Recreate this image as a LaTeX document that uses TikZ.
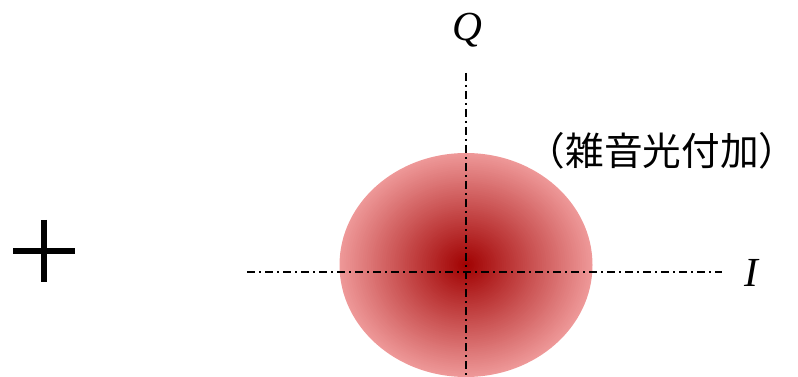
\documentclass[tikz,border=0pt]{standalone}
\usepackage{fontspec}
\setmainfont{Liberation Serif}
\newfontfamily\jpfont{Noto Sans CJK JP}
\usepackage{tikz}
\usetikzlibrary{shapes.geometric, positioning, calc}
\definecolor{cCore}{RGB}{160,0,0}
\definecolor{cRim}{RGB}{238,152,152}
\tikzset{
	cloud/.style    ={ellipse, minimum width=190pt, minimum height=168pt, inner sep=0pt, draw=none},
	axisline/.style ={line width=1.1pt, dash pattern=on 6pt off 3pt on 1.5pt off 3pt},
	axislabel/.style={font=\fontsize{31}{31}\selectfont\itshape, inner sep=0pt},
	plusbar/.style  ={line width=4.5pt},
}
\begin{document}
\begin{tikzpicture}[x=0.75pt, y=-0.75pt]
	\useasboundingbox (0,0) rectangle (798,377);
	% noise-added symbol
	\node[cloud] (blob) at (466,265) {};
	\foreach \k in {60,59,...,1}{
		\pgfmathsetmacro{\pct}{100*\k/60}
		\fill[cRim!\pct!cCore] (blob.center) ellipse ({126.5*\k/60} and {112*\k/60});
	}
	\coordinate (qtop) at (466,73);
	\coordinate (qbot) at (466,377);
	\coordinate (ileft) at (247,272);
	\coordinate (iright) at (722,272);
	\draw[axisline] (ileft) -- (iright);
	\draw[axisline] (qtop) -- (qbot);
	\node[axislabel] (qlab) at (467,30) {Q};
	\node[axislabel] (ilab) at (751,273) {I};
	\node[font=\jpfont\fontsize{29}{29}\selectfont, inner sep=0pt] (note) at (662,151) {（雑音光付加）};
	% plus sign
	\coordinate (ph1) at (13,251);
	\coordinate (ph2) at (75,251);
	\coordinate (pv1) at (44,220);
	\coordinate (pv2) at (44,282);
	\draw[plusbar] (ph1) -- (ph2);
	\draw[plusbar] (pv1) -- (pv2);
\end{tikzpicture}
\end{document}
